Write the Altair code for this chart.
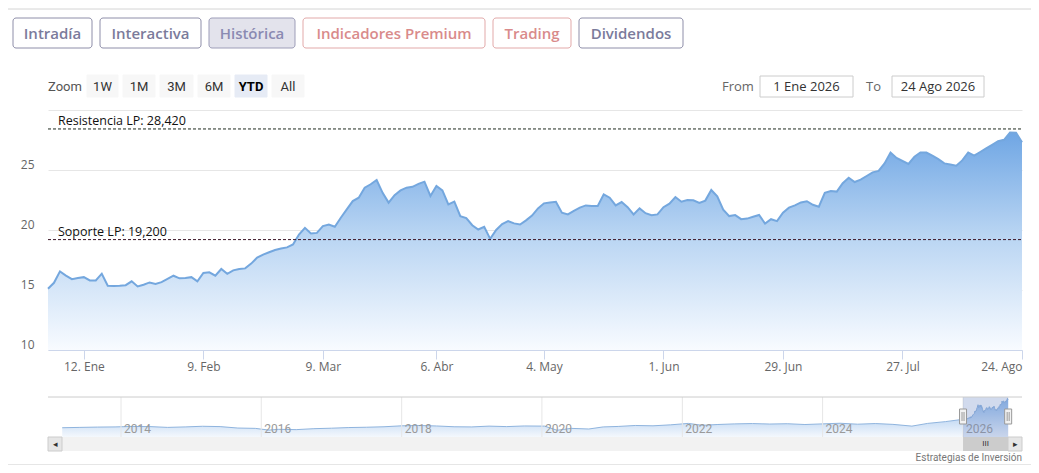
import json
import altair as alt
import pandas as pd

# ------------------------------------------------------------------ data
start_date = "2026-01-02"
end_date = "2026-08-24"
holidays = ["2026-04-03", "2026-04-06", "2026-05-01"]

close = [
    15.1, 15.6, 16.55, 16.2, 15.9, 16.0, 16.07, 15.8, 15.8, 16.36,
    15.36, 15.33, 15.35, 15.4, 15.72, 15.3, 15.44, 15.63, 15.5, 15.66,
    15.92, 16.19, 15.97, 16.0, 16.07, 15.72, 16.42, 16.47, 16.19, 16.75,
    16.35, 16.64, 16.75, 16.8, 17.2, 17.7, 17.95, 18.15, 18.33, 18.45,
    18.55, 18.79, 19.62, 20.18, 19.71, 19.76, 20.32, 20.46, 20.27, 21.02,
    21.72, 22.41, 22.69, 23.53, 23.81, 24.17, 23.1, 22.28, 22.9, 23.3,
    23.53, 23.6, 23.85, 24.03, 22.84, 23.67, 23.3, 22.13, 22.36, 21.16,
    21.0, 20.4, 20.04, 20.27, 19.26, 20.0, 20.5, 20.74, 20.55, 20.46,
    20.8, 21.2, 21.8, 22.22, 22.3, 22.35, 21.44, 21.3, 21.6, 21.86,
    22.05, 22.0, 22.0, 22.97, 22.69, 22.05, 22.33, 21.9, 21.3, 21.8,
    21.4, 21.24, 21.3, 21.9, 22.19, 22.75, 22.36, 22.49, 22.47, 22.25,
    22.45, 23.33, 22.8, 21.7, 21.16, 21.24, 20.9, 20.95, 21.1, 21.25,
    20.54, 20.9, 20.74, 21.44, 21.86, 22.05, 22.3, 22.4, 22.1, 21.94,
    23.1, 23.24, 23.2, 23.9, 24.36, 24.0, 24.2, 24.5, 24.8, 24.92,
    25.55, 26.46, 26.0, 25.75, 25.5, 26.1, 26.46, 26.45, 26.2, 25.9,
    25.55, 25.45, 25.36, 25.8, 26.46, 26.2, 26.5, 26.8, 27.1, 27.4,
    27.52, 28.13, 28.1, 27.3,
]

tick_dates = ["2026-01-12", "2026-02-09", "2026-03-09", "2026-04-06", "2026-05-04",
              "2026-06-01", "2026-06-29", "2026-07-27", "2026-08-24"]
tick_labels = ["12. Ene", "9. Feb", "9. Mar", "6. Abr", "4. May",
               "1. Jun", "29. Jun", "27. Jul", "24. Ago"]
y_ticks = [10, 15, 20, 25, 30]

level_names = ["Resistencia LP: 28,420", "Soporte LP: 19,200"]
level_values = [28.42, 19.2]

hist_dates = [
    "2013-03-01", "2013-06-01", "2013-09-01", "2013-12-01",
    "2014-03-01", "2014-06-01", "2014-09-01", "2014-12-01",
    "2015-03-01", "2015-06-01", "2015-09-01", "2015-12-01",
    "2016-02-10", "2016-04-01", "2016-07-01", "2016-10-01",
    "2017-01-01", "2017-04-01", "2017-07-01", "2017-10-01",
    "2018-01-01", "2018-04-01", "2018-07-01", "2018-10-01",
    "2019-01-01", "2019-04-01", "2019-07-01", "2019-10-01",
    "2020-01-15", "2020-03-20", "2020-06-01", "2020-09-01", "2020-11-15",
    "2021-02-01", "2021-05-01", "2021-08-01", "2021-11-01",
    "2022-02-01", "2022-04-15", "2022-07-01", "2022-10-01",
    "2023-01-01", "2023-04-01", "2023-07-01", "2023-10-01",
    "2024-01-01", "2024-04-01", "2024-07-01", "2024-10-01",
    "2025-01-01", "2025-04-10", "2025-07-01", "2025-10-01", "2025-12-15",
]
hist_values = [
    9.8, 10.0, 10.2, 10.3,
    10.6, 10.5, 10.0, 10.3,
    10.7, 10.5, 9.6, 9.4,
    8.3, 8.8, 8.6, 9.2,
    9.5, 9.9, 10.1, 10.4,
    11.0, 11.2, 10.9, 10.4,
    10.3, 10.8, 10.5, 10.9,
    10.8, 8.2, 9.4, 9.0, 10.3,
    10.6, 11.2, 11.0, 11.6,
    12.5, 11.3, 11.8, 12.2,
    12.4, 12.1, 12.3, 11.8,
    12.2, 12.6, 12.0, 12.4,
    11.9, 10.8, 12.5, 13.6, 14.8,
]
nav_years = ["2014", "2016", "2018", "2020", "2022", "2024", "2026"]
sel_from = "2026-01-01"
sel_to = "2026-08-24"

buttons = ["Intradía", "Interactiva", "Histórica", "Indicadores Premium", "Trading", "Dividendos"]
zoom_buttons = ["1W", "1M", "3M", "6M", "YTD", "All"]
from_text = "1 Ene 2026"
to_text = "24 Ago 2026"
credit = "Estrategias de Inversión"

# ------------------------------------------------------------------ frames
days = pd.bdate_range(start_date, end_date)
days = days[~days.isin(pd.to_datetime(holidays))]
df = pd.DataFrame({"i": range(len(days)), "date": days, "close": close})
tick_idx = [int((days >= pd.Timestamp(t)).argmax()) for t in tick_dates]

lev_df = pd.DataFrame({"name": level_names, "v": level_values})

nav_df = pd.concat([
    pd.DataFrame({"d": pd.to_datetime(hist_dates), "v": hist_values}),
    pd.DataFrame({"d": days, "v": close}),
], ignore_index=True)
years_df = pd.DataFrame({"d": pd.to_datetime([y + "-01-01" for y in nav_years]), "label": nav_years})
sel_df = pd.DataFrame({"a": [pd.Timestamp(sel_from)], "b": [pd.Timestamp(sel_to)]})
sel_df["m"] = sel_df["a"] + (sel_df["b"] - sel_df["a"]) / 2
handles_df = pd.DataFrame({"d": [pd.Timestamp(sel_from), pd.Timestamp(sel_to)]})
one = pd.DataFrame({"k": [0]})

# ------------------------------------------------------------------ geometry / styles
W, H = 974, 240          # plot area (page x 48..1022, y 110..350)
PX0, PY0 = 48, 110       # page origin of plot


def px(x):
    return x - PX0


def py(y):
    return y - PY0


FONT = "Open Sans"
BTN_FONT = "Open Sans"
NARROW = "Liberation Sans Narrow, Roboto, sans-serif"

# ------------------------------------------------------------------ main chart
x_scale = alt.Scale(domain=[0, len(days) - 1], nice=False, zero=False)
label_expr = f"{json.dumps(tick_labels)}[indexof({json.dumps(tick_idx)}, datum.value)]"
x_axis = alt.Axis(values=tick_idx, labelExpr=label_expr, grid=False, tickSize=9,
                  tickColor="#ccd6eb", domainColor="#ccd6eb", labelColor="#666666",
                  labelFont=FONT, labelFontSize=12, labelPadding=2, labelFlush=True,
                  title=None)
y_scale = alt.Scale(domain=[10, 30], nice=False, zero=False)
y_axis = alt.Axis(values=y_ticks, labelExpr="datum.value == 30 ? '' : datum.label",
                  grid=True, gridColor="#e6e6e6", domain=False, ticks=False,
                  labelPadding=14, labelColor="#666666", labelFont=FONT, labelFontSize=12,
                  labelBaseline="middle", labelOffset=-6, title=None)
X = alt.X("i:Q", scale=x_scale, axis=x_axis)
Y = alt.Y("close:Q", scale=y_scale, axis=y_axis)

area = alt.Chart(df).mark_area(
    color=alt.Gradient(gradient="linear",
                       stops=[alt.GradientStop(color="#6fa6e4", offset=0),
                              alt.GradientStop(color="#b6d3f2", offset=0.45),
                              alt.GradientStop(color="#f8fbff", offset=1)],
                       x1=1, x2=1, y1=0, y2=1)
).encode(x=X, y=Y, y2=alt.datum(10))
line = alt.Chart(df).mark_line(color="#74a7de", strokeWidth=2).encode(x=X, y=Y)

rules = alt.Chart(lev_df).mark_rule(strokeDash=[3, 2], strokeWidth=1).encode(
    y=alt.Y("v:Q", scale=y_scale, axis=y_axis),
    x=alt.value(0), x2=alt.value(W),
    color=alt.Color("name:N", scale=alt.Scale(domain=level_names, range=["#1e2a1e", "#3b1626"]),
                    legend=None),
)
lev_text = alt.Chart(lev_df).mark_text(align="left", baseline="alphabetic", dy=-4,
                                       font=FONT, fontSize=12.5, color="#111111").encode(
    y=alt.Y("v:Q", scale=y_scale, axis=y_axis), x=alt.value(10), text="name:N")

main = alt.layer(area, line, rules, lev_text)

# ------------------------------------------------------------------ navigator
nx = alt.Scale(domain=[alt.DateTime(year=2012, month=12, date=17),
                       alt.DateTime(year=2026, month=11, date=4)])
NAV_TOP, NAV_BOT = py(397), py(437)
ny = alt.Scale(domain=[4, 29], range=[NAV_BOT, NAV_TOP], nice=False, zero=False)

nav_area = alt.Chart(nav_df).mark_area(
    color=alt.Gradient(gradient="linear",
                       stops=[alt.GradientStop(color="#8db8ea", offset=0),
                              alt.GradientStop(color="#f4f8fd", offset=1)],
                       x1=1, x2=1, y1=0, y2=1)
).encode(x=alt.X("d:T", scale=nx, axis=None), y=alt.Y("v:Q", scale=ny, axis=None),
         y2=alt.datum(4))
nav_line = alt.Chart(nav_df).mark_line(color="#8fb4de", strokeWidth=1).encode(
    x=alt.X("d:T", scale=nx, axis=None), y=alt.Y("v:Q", scale=ny, axis=None))
year_rules = alt.Chart(years_df).mark_rule(color="#e6e6e6").encode(
    x=alt.X("d:T", scale=nx, axis=None), y=alt.value(NAV_TOP), y2=alt.value(NAV_BOT))
year_text = alt.Chart(years_df).mark_text(align="left", baseline="middle", dx=3, font=NARROW,
                                          fontSize=12, color="#9a9a9a").encode(
    x=alt.X("d:T", scale=nx, axis=None), y=alt.value(py(429)), text="label:N")
sel_rect = alt.Chart(sel_df).mark_rect(color="#6685c2", opacity=0.3).encode(
    x=alt.X("a:T", scale=nx, axis=None), x2="b:T", y=alt.value(NAV_TOP), y2=alt.value(NAV_BOT))
track = alt.Chart(one).mark_rect(fill="#f2f2f2").encode(
    x=alt.value(0), x2=alt.value(W), y=alt.value(py(437)), y2=alt.value(py(451)))
thumb = alt.Chart(sel_df).mark_rect(fill="#cccccc").encode(
    x=alt.X("a:T", scale=nx, axis=None), x2="b:T", y=alt.value(py(437)), y2=alt.value(py(451)))
thumb_txt = alt.Chart(sel_df).mark_text(text="III", fontSize=8, color="#333333", baseline="middle").encode(
    x=alt.X("m:T", scale=nx, axis=None), y=alt.value(py(444)))
handles = alt.Chart(handles_df).mark_rect(width=7, fill="#f2f2f2", stroke="#999999", strokeWidth=1).encode(
    x=alt.X("d:T", scale=nx, axis=None), y=alt.value(py(409)), y2=alt.value(py(424)))
handle_l1 = alt.Chart(handles_df).mark_rule(color="#999999", xOffset=-1).encode(
    x=alt.X("d:T", scale=nx, axis=None), y=alt.value(py(412)), y2=alt.value(py(421)))
handle_l2 = alt.Chart(handles_df).mark_rule(color="#999999", xOffset=1).encode(
    x=alt.X("d:T", scale=nx, axis=None), y=alt.value(py(412)), y2=alt.value(py(421)))

nav = alt.layer(nav_area, nav_line, year_rules, year_text, sel_rect, track, thumb,
                thumb_txt, handles, handle_l1, handle_l2)

# ------------------------------------------------------------------ decorations


def box(x0, x1, y0, y1, fill, stroke, r=0):
    return alt.Chart(one).mark_rect(fill=fill, stroke=stroke, strokeWidth=1, cornerRadius=r).encode(
        x=alt.value(x0), x2=alt.value(x1), y=alt.value(y0), y2=alt.value(y1))


def label(x, y, txt, **kw):
    return alt.Chart(one).mark_text(baseline="middle", **kw).encode(
        x=alt.value(x), y=alt.value(y), text=alt.value(txt))


def hline(y, x0, x1, color):
    return alt.Chart(one).mark_rule(color=color).encode(
        x=alt.value(x0), x2=alt.value(x1), y=alt.value(y))


deco = []
deco.append(hline(py(9), -40, 983, "#d4d4d4"))

btn_pos = [(13, 92), (100, 201), (209, 295), (303, 485), (493, 571), (579, 683)]
btn_style = [
    ("#ffffff", "#8e8ea9", "#7b7b9b"),
    ("#ffffff", "#8e8ea9", "#7b7b9b"),
    ("#e3e3ec", "#9d9db8", "#8a8ab2"),
    ("#ffffff", "#e2a9a9", "#d98b8b"),
    ("#ffffff", "#e2a9a9", "#d98b8b"),
    ("#ffffff", "#8e8ea9", "#7b7b9b"),
]
for name, (a, b), (fill, stroke, tcol) in zip(buttons, btn_pos, btn_style):
    deco.append(box(px(a), px(b), py(18), py(48), fill, stroke, 3))
    deco.append(label(px((a + b) / 2), py(33.5), name, align="center", font=BTN_FONT,
                      fontSize=15, fontWeight=600, color=tcol))

deco.append(label(px(48), py(86.5), "Zoom", align="left", font=NARROW, fontSize=13, color="#555555"))
zpos = [(87, 118), (123, 155), (160, 193), (198, 230), (235, 267), (272, 304)]
for name, (a, b) in zip(zoom_buttons, zpos):
    sel = name == "YTD"
    deco.append(box(px(a), px(b), py(75), py(97), "#e6ebf5" if sel else "#f7f7f7",
                    "#e6ebf5" if sel else "#f7f7f7"))
    deco.append(label(px((a + b) / 2), py(86.5), name, align="center", font=NARROW, fontSize=13,
                      fontWeight="bold" if sel else "normal", color="#000000" if sel else "#333333"))

deco.append(label(px(722), py(86.5), "From", align="left", font=FONT, fontSize=13, color="#666666"))
deco.append(box(px(760), px(853), py(76), py(97), "#ffffff", "#cccccc"))
deco.append(label(px(806.5), py(86.5), from_text, align="center", font=FONT, fontSize=13, color="#333333"))
deco.append(label(px(866), py(86.5), "To", align="left", font=FONT, fontSize=13, color="#666666"))
deco.append(box(px(892), px(984), py(76), py(97), "#ffffff", "#cccccc"))
deco.append(label(px(938), py(86.5), to_text, align="center", font=FONT, fontSize=13, color="#333333"))

deco.append(hline(py(397), 0, W, "#cccccc"))
deco.append(box(px(48), px(62), py(437), py(451), "#e6e6e6", "#cccccc"))
deco.append(label(px(55), py(444), "◂", align="center", fontSize=9, color="#333333"))
deco.append(box(px(1008), px(1022), py(437), py(451), "#e6e6e6", "#cccccc"))
deco.append(label(px(1015), py(444), "▸", align="center", fontSize=9, color="#333333"))
deco.append(label(px(1022), py(458), credit, align="right", font=NARROW, fontSize=10, color="#777777"))
deco.append(hline(py(465), -40, 983, "#cccccc"))

chart = alt.layer(main, nav, *deco).resolve_scale(
    x="independent", y="independent", color="independent"
).properties(
    width=W, height=H,
    autosize=alt.AutoSizeParams(type="none"),
    padding={"left": 40, "top": 102, "right": 9, "bottom": 115},
).configure_view(stroke=None)

chart.save("out.html", embed_options={"renderer": "svg", "actions": False})
